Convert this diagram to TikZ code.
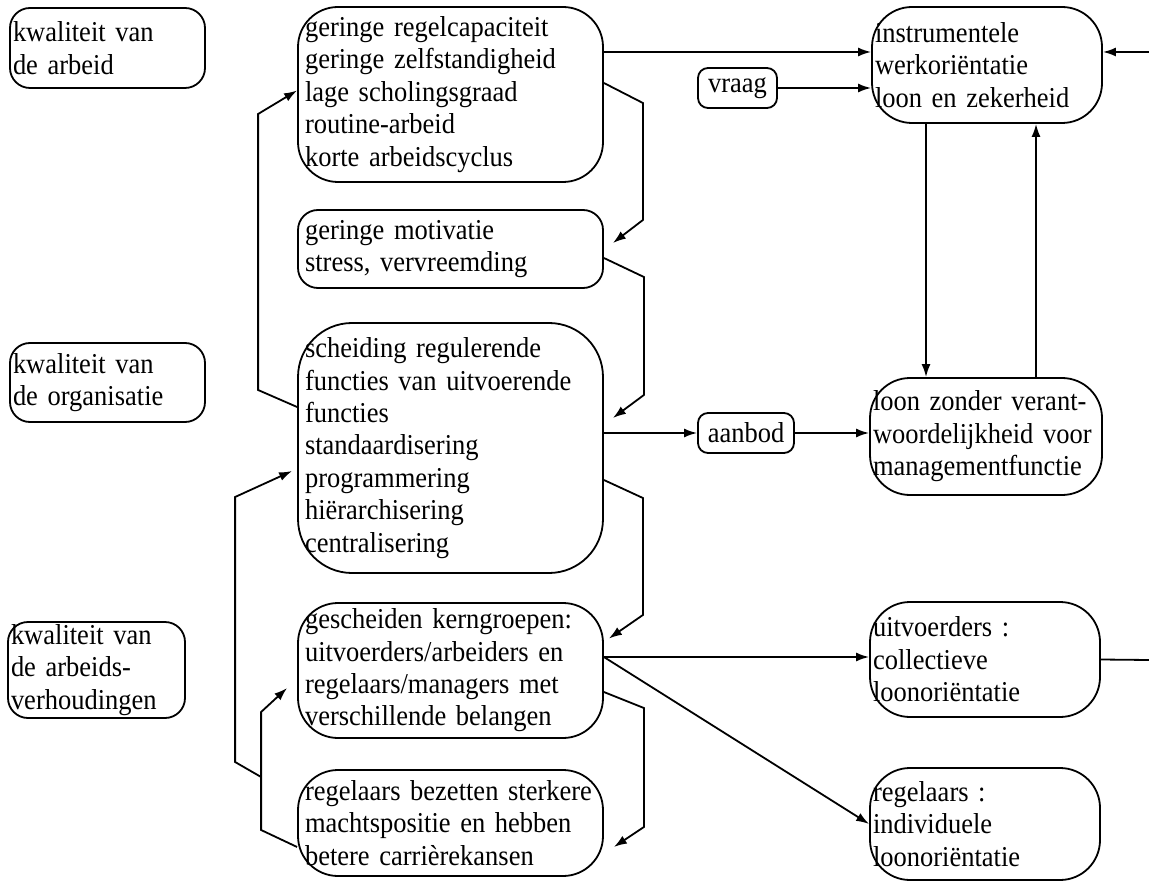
\documentclass[tikz,border=0pt]{standalone}
\usepackage{fontspec}
\setmainfont{Liberation Serif}[FakeStretch = 0.92]
\usepackage{tikz}
\usetikzlibrary{arrows.meta}

\begin{document}
\begin{tikzpicture}[x = 0.5pt, y = -0.5pt,
        Node/.style = {rectangle, draw = black, line width = 0.9pt, rounded corners = 10pt, align = left, inner ysep = 0pt, font = \fontsize{14.4}{16.2}\selectfont},
        Small/.style = {Node, inner xsep = 1.5pt},
        Wide/.style = {Node, inner xsep = 3.5pt, text width = 145.5pt},
        Link/.style = {line width = 0.9pt, -{Latex[length = 6.5pt, width = 4.5pt]}}]
        \useasboundingbox (0,0) rectangle (1149,881);
        \node [Small, text width = 94.5pt, minimum height = 40pt] (1) at (107.5,48) {kwaliteit van\\de arbeid};
        \node [Small, text width = 94.5pt, minimum height = 39.5pt] (2) at (107.5,382.5) {kwaliteit van\\de organisatie};
        \node [Small, text width = 85.5pt, minimum height = 48pt] (3) at (96.5,670) {kwaliteit van\\de arbeids-\\verhoudingen};
        \node [Wide, minimum height = 87.5pt, rounded corners = 20pt] (4) at (450.5,94.5) {geringe regelcapaciteit\\geringe zelfstandigheid\\lage scholingsgraad\\routine-arbeid\\korte arbeidscyclus};
        \node [Wide, minimum height = 39pt] (5) at (450.5,249) {geringe motivatie\\stress, vervreemding};
        \node [Wide, minimum height = 125pt, rounded corners = 27pt] (6) at (450.5,448) {scheiding regulerende\\functies van uitvoerende\\functies\\standaardisering\\programmering\\hiërarchisering\\centralisering};
        \node [Wide, minimum height = 67.5pt, rounded corners = 20pt] (7) at (450.5,670.5) {gescheiden kerngroepen:\\uitvoerders/arbeiders en\\regelaars/managers met\\verschillende belangen};
        \node [Wide, minimum height = 53pt, rounded corners = 20pt] (8) at (450.5,823) {regelaars bezetten sterkere\\machtspositie en hebben\\betere carrièrekansen};
        \node [Small, minimum width = 39.5pt, minimum height = 20pt, rounded corners = 5pt] (9) at (737.5,88) {vraag};
        \node [Small, text width = 112pt, minimum height = 58pt, rounded corners = 20pt] (10) at (987,65) {instrumentele\\werkoriëntatie\\loon en zekerheid};
        \node [Small, minimum width = 48pt, minimum height = 20pt, rounded corners = 5pt] (11) at (746,433) {aanbod};
        \node [Small, text width = 113pt, minimum height = 58.5pt, rounded corners = 20pt] (12) at (986,436.5) {loon zonder verant-\\woordelijkheid voor\\managementfunctie};
        \node [Small, text width = 112pt, minimum height = 57.5pt, rounded corners = 20pt] (13) at (985,659.5) {uitvoerders :\\collectieve\\loonoriëntatie};
        \node [Small, text width = 112pt, minimum height = 56pt, rounded corners = 20pt] (14) at (985,824) {regelaars :\\individuele\\loonoriëntatie};
        \coordinate (r1) at (1149,52);
        \coordinate (r2) at (1149,660);
        \draw [Link] ([yshift = 21.25pt]4.east) -- ([yshift = 21.25pt]4.east -| 10.west);
        \draw [Link] (9.east) -- (9.east -| 10.west);
        \draw [Link] (r1) -- (r1 -| 10.east);
        \draw [Link] ([xshift = -30.5pt]10.south) -- ([xshift = -30.5pt]10.south |- 12.north);
        \draw [Link] ([xshift = 25pt]12.north) -- ([xshift = 25pt]12.north |- 10.south);
        \draw [Link] ([yshift = 20.5pt]6.west) -- ++(-39,-17) -- ++(0,-276) -- ([yshift = 2pt]4.west);
        \draw [Link] ([yshift = 5.75pt]4.east) -- ++(39,20) -- ++(0,117) -- ([xshift = 4.5pt, yshift = 3pt]5.east);
        \draw [Link] ([yshift = -4.5pt]5.east) -- ++(40,19) -- ++(0,118) -- ([xshift = 4.5pt, yshift = 15pt]6.east);
        \draw [Link] (6.east |- 11.west) -- (11.west);
        \draw [Link] (11.east) -- (11.east -| 12.west);
        \draw [Link] ([yshift = -16pt]6.east) -- ++(39,18) -- ++(0,117) -- ([xshift = 2.5pt, yshift = 16pt]7.east);
        \draw [Link] ([yshift = 6.75pt]7.east) -- ([yshift = 6.75pt]7.east -| 13.west);
        \draw [Link] ([yshift = 6.75pt]7.east) -- (14.west);
        \draw [Link] ([yshift = -10.75pt]7.east) -- ++(40,16) -- ++(0,119) -- ([xshift = 5pt, yshift = -12pt]8.east);
        \draw [Link] ([yshift = -12pt]8.west) -- ++(-36,-17) -- ++(0,-53) coordinate (f1) -- ++(0,-65) -- ([xshift = -5pt, yshift = -8.75pt]7.west);
        \draw [Link] (f1) -- ++(-26,-15) -- ++(0,-265) -- ([xshift = -2.5pt, yshift = -11.5pt]6.west);
        \draw [line width = 0.9pt] (13.east) -- (r2);
    \end{tikzpicture}
\end{document}
